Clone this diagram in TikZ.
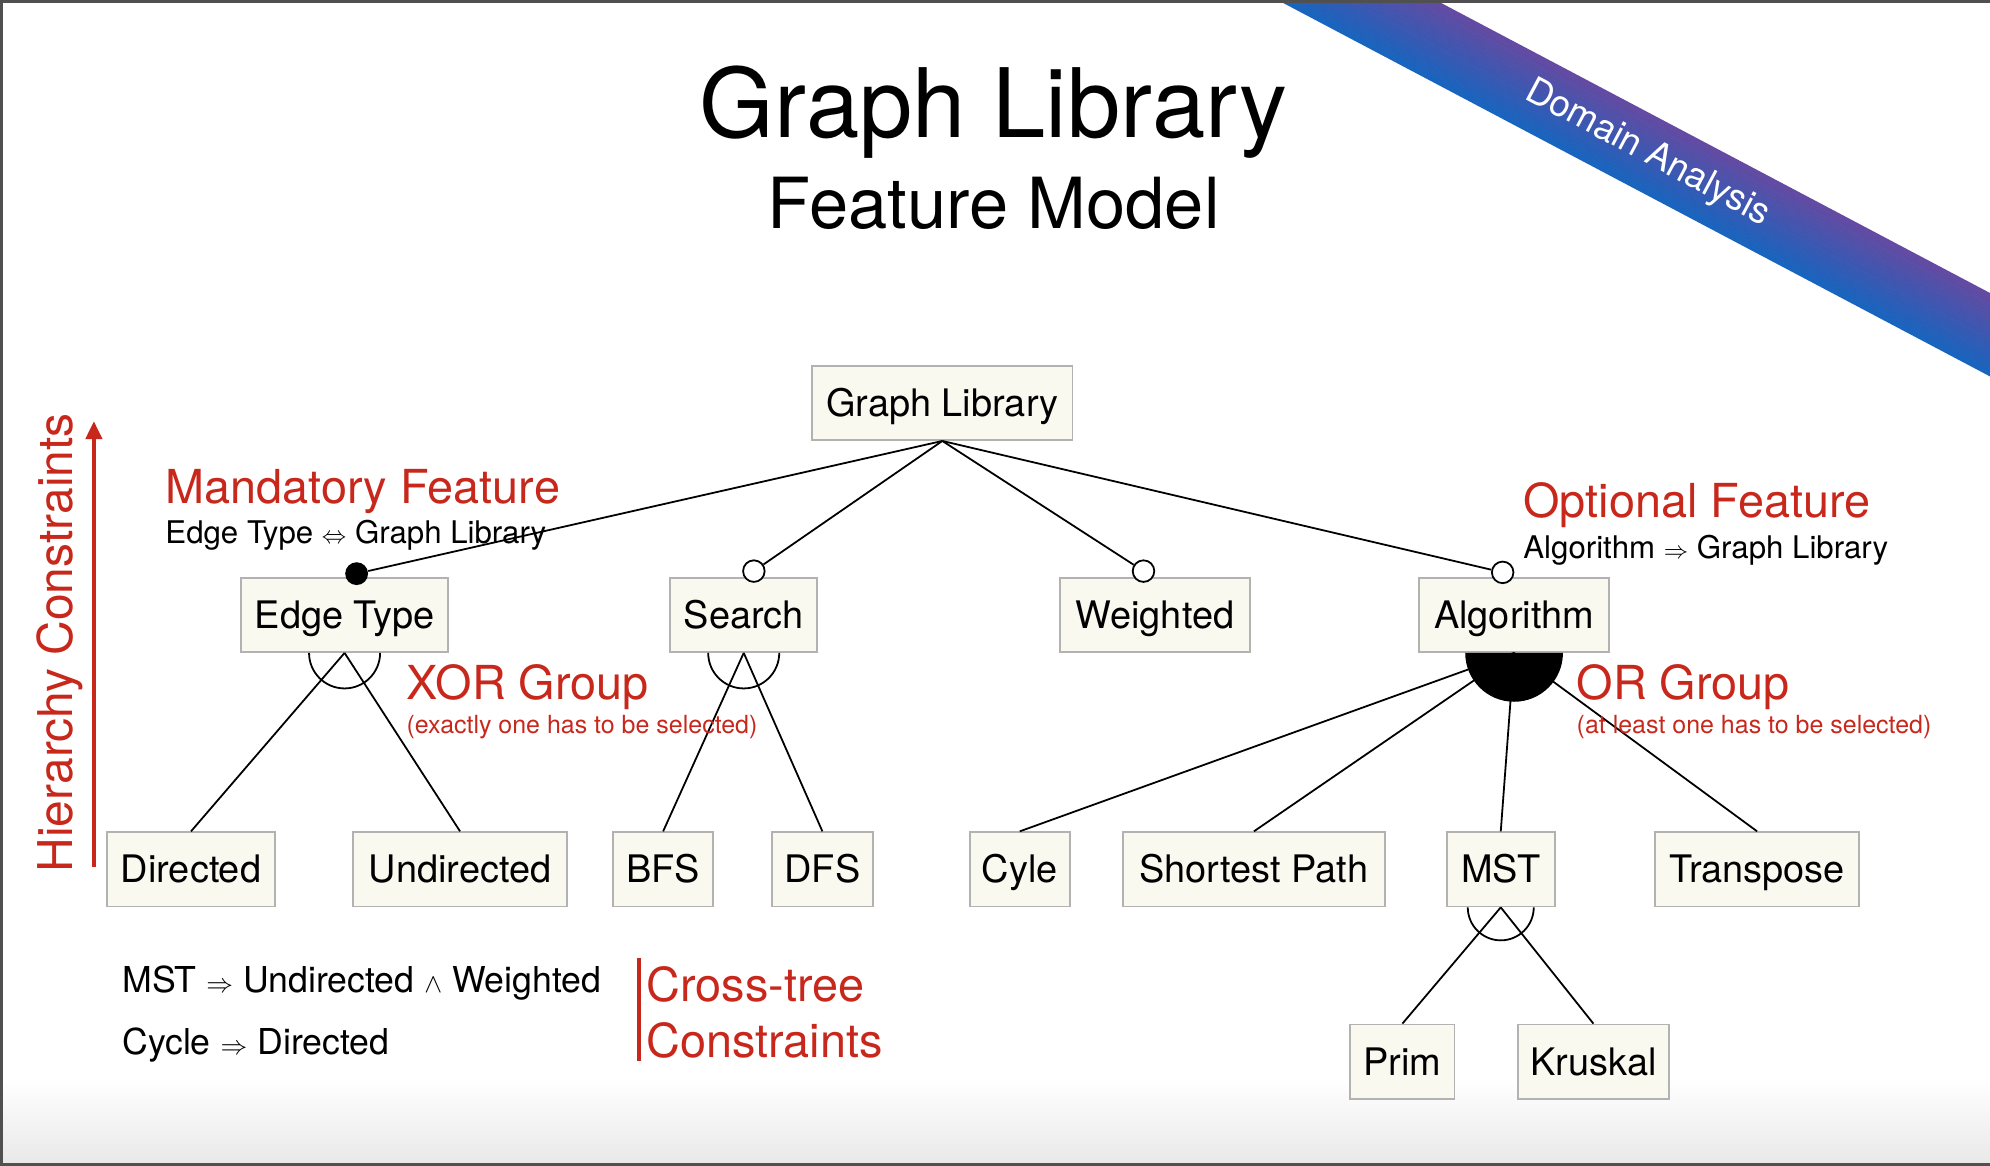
\documentclass[tikz,border=0pt]{standalone}
\usepackage{fontspec}
\setmainfont{TeX Gyre Heros}
\usepackage{tikz}
\usetikzlibrary{positioning,calc,arrows.meta}
\definecolor{fmred}{RGB}{200,40,28}
\definecolor{fmfill}{RGB}{249,249,240}
\definecolor{fmline}{RGB}{178,178,178}
\definecolor{bandtop}{RGB}{100,74,162}
\definecolor{bandbot}{RGB}{24,100,190}
\definecolor{framegray}{RGB}{80,80,80}
\begin{document}
\begin{tikzpicture}[x=0.02cm,y=-0.02cm,
	feat/.style={draw=fmline,line width=0.8pt,fill=fmfill,minimum height=1.17cm,inner sep=0pt,text height=12.2pt,text depth=0pt,font=\fontsize{17}{20}\selectfont},
	conn/.style={draw=black,line width=0.8pt},
	mand/.style={circle,fill=black,minimum size=0.36cm,inner sep=0pt},
	opt/.style={circle,draw=black,fill=white,line width=0.8pt,minimum size=0.34cm,inner sep=0pt},
	redhead/.style={text=fmred,font=\fontsize{21}{25}\selectfont,anchor=base west,inner sep=0pt},
	redsub/.style={text=fmred,font=\fontsize{11.2}{13}\selectfont,anchor=base west,inner sep=0pt},
	rule/.style={font=\fontsize{14}{17}\selectfont,anchor=base west,inner sep=0pt},
	cross/.style={font=\fontsize{16}{19}\selectfont,anchor=base west,inner sep=0pt}]
	\useasboundingbox (0,0) rectangle (1568,918.7);
	
	% slide background
	\shade[top color=white,bottom color={rgb,255:red,232;green,232;blue,232}] (0,850) rectangle (1568,918.7);
	\begin{scope}
		\clip (0,0) rectangle (1568,918.7);
		\begin{scope}[shift={(1300,120.6)},rotate=-27.85]
			\foreach \i [evaluate=\i as \pc using 100-\i*100/23] in {0,...,23}
				\fill[bandtop!\pc!bandbot] (-700,-27.7+\i*2.41) rectangle (700,-27.7+\i*2.41+2.7);
		\end{scope}
	\end{scope}
	\node[text=white,rotate=-28,font=\fontsize{16.4}{19}\selectfont] (da) at (1298,121) {Domain Analysis};
	\draw[framegray,line width=0.05cm] (1568,1) -- (1,1) -- (1,917.7) -- (1568,917.7);
	
	% title
	\node[anchor=base,inner sep=0pt,font=\fontsize{43}{50}\selectfont] (title) at (783,108) {Graph Library};
	\node[anchor=base,inner sep=0pt,font=\fontsize{31.6}{38}\selectfont] (subtitle) at (783,180) {Feature Model};
	
	% features
	\node[feat,minimum width=4.10cm] (gl) at (742.5,317.5) {Graph Library};
	
	\node[feat,minimum width=3.26cm] (et) at (271.5,484.5) {Edge Type};
	\node[feat,minimum width=2.32cm] (se) at (586,484.5) {Search};
	\node[feat,minimum width=3.00cm] (we) at (910,484.5) {Weighted};
	\node[feat,minimum width=3.00cm] (al) at (1193,484.5) {Algorithm};
	
	\node[feat,minimum width=2.66cm] (di) at (150.5,685) {Directed};
	\node[feat,minimum width=3.38cm] (un) at (362.5,685) {Undirected};
	\node[feat,minimum width=1.58cm] (bfs) at (522.5,685) {BFS};
	\node[feat,minimum width=1.60cm] (dfs) at (648,685) {DFS};
	\node[feat,minimum width=1.58cm] (cy) at (803.5,685) {Cyle};
	\node[feat,minimum width=4.12cm] (sp) at (988,685) {Shortest Path};
	\node[feat,minimum width=1.70cm] (mst) at (1182.5,685) {MST};
	\node[feat,minimum width=3.22cm] (tr) at (1384.5,685) {Transpose};
	
	\node[feat,minimum width=1.64cm] (pr) at (1105,836.5) {Prim};
	\node[feat,minimum width=2.38cm] (kr) at (1255.5,836.5) {Kruskal};
	
	% mandatory / optional ends
	\node[mand] (etd) at (281,452) {};
	\node[opt] (sed) at (594,450) {};
	\node[opt] (wed) at (901,450) {};
	\node[opt] (ald) at (1184,451) {};
	
	\draw[conn] (gl.south) -- (etd);
	\draw[conn] (gl.south) -- (sed);
	\draw[conn] (gl.south) -- (wed);
	\draw[conn] (gl.south) -- (ald);
	
	% xor groups
	\draw[conn] (et.south) -- (di.north);
	\draw[conn] (et.south) -- (un.north);
	\draw[conn] (et.south) ++(-0.56cm,0) arc[start angle=180,end angle=360,radius=0.56cm];
	
	\draw[conn] (se.south) -- (bfs.north);
	\draw[conn] (se.south) -- (dfs.north);
	\draw[conn] (se.south) ++(-0.56cm,0) arc[start angle=180,end angle=360,radius=0.56cm];
	
	\draw[conn] (mst.south) -- (pr.north);
	\draw[conn] (mst.south) -- (kr.north);
	\draw[conn] (mst.south) ++(-0.52cm,0) arc[start angle=180,end angle=360,radius=0.52cm];
	
	% or group
	\draw[conn] (al.south) -- (cy.north);
	\draw[conn] (al.south) -- (sp.north);
	\draw[conn] (al.south) -- (mst.north);
	\draw[conn] (al.south) -- (tr.north);
	\fill[black] (al.south) ++(-0.77cm,0) arc[start angle=180,end angle=360,radius=0.77cm] -- cycle;
	
	% labels
	\node[redhead] (mf) at (130,397) {Mandatory Feature};
	\node[rule] (mfr) at (130,428) {Edge Type {\fontsize{11}{13}\selectfont$\Leftrightarrow$} Graph Library};
	\node[redhead] (of) at (1200,408) {Optional Feature};
	\node[rule] (ofr) at (1200,440) {Algorithm {\fontsize{11}{13}\selectfont$\Rightarrow$} Graph Library};
	\node[redhead] (xg) at (320,551) {XOR Group};
	\node[redsub] (xgs) at (320,578) {(exactly one has to be selected)};
	\node[redhead] (og) at (1242,551) {OR Group};
	\node[redsub] (ogs) at (1242,578) {(at least one has to be selected)};
	
	% hierarchy constraints
	\node[text=fmred,rotate=90,anchor=base,inner sep=0pt,font=\fontsize{21.5}{25}\selectfont] (hc) at (57,506.5) {Hierarchy Constraints};
	\coordinate (hb) at (74,683);
	\coordinate (ht) at (74,332);
	\draw[fmred,line width=0.05cm,-{Triangle[length=0.28cm,width=0.26cm]}] (hb) -- (ht);
	
	% cross-tree constraints
	\node[cross] (c1) at (96,782) {MST {\fontsize{12}{14}\selectfont$\Rightarrow$} Undirected {\fontsize{12}{14}\selectfont$\wedge$} Weighted};
	\node[cross] (c2) at (96,831) {Cycle {\fontsize{12}{14}\selectfont$\Rightarrow$} Directed};
	\draw[fmred,line width=0.05cm] (503.5,755) -- (503.5,836);
	\node[redhead] (ct1) at (509,789) {Cross-tree};
	\node[redhead] (ct2) at (509,833) {Constraints};
\end{tikzpicture}
\end{document}
